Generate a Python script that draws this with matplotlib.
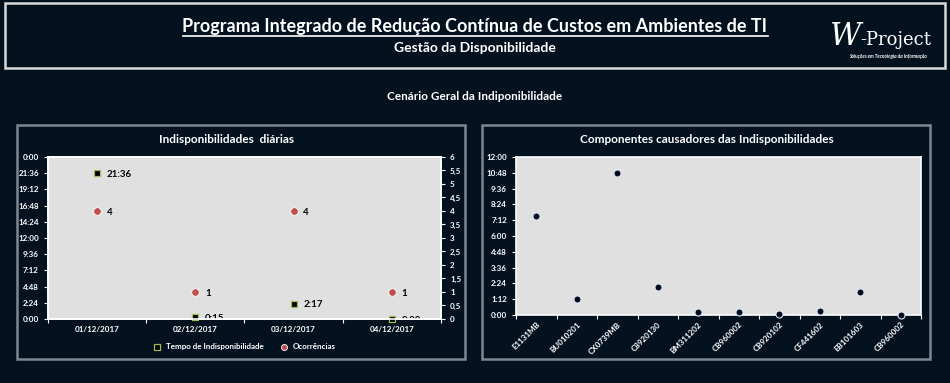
import matplotlib
matplotlib.use("Agg")
import matplotlib.pyplot as plt
from matplotlib.patches import Rectangle
from matplotlib.lines import Line2D
from matplotlib.ticker import FuncFormatter, MultipleLocator

dias = ["01/12/2017", "02/12/2017", "03/12/2017", "04/12/2017"]
tempo_horas = [21.6, 0.25, 2.2833, 0.0]          # 21:36, 0:15, 2:17, 0:00
tempo_rotulos = ["21:36", "0:15", "2:17", "0:00"]
ocorrencias = [4, 1, 4, 1]

componentes = ["E1131MB", "BU010201", "CX0739MB", "C8920130", "BM311202",
               "CB960002", "CB920102", "CF441602", "EB101603", "CB960002"]
comp_horas = [7.52, 1.24, 10.76, 2.15, 0.25, 0.2, 0.08, 0.3, 1.75, 0.0]

FUNDO = "#04111f"
AREA = "#e0e0e0"
plt.rcParams["font.family"] = ["Lato", "DejaVu Sans"]


def fmt_hora(v, pos=None):
    total = int(round(v * 60))
    h = (total // 60) % 24
    m = total % 60
    return f"{h}:{m:02d}"


fig = plt.figure(figsize=(9.5, 3.83), dpi=100, facecolor=FUNDO)

# cabeçalho
fig.patches.append(Rectangle((0.0053, 0.8225), 0.9895, 0.1697, transform=fig.transFigure,
                             fill=False, edgecolor="#d8d8d8", linewidth=1.8))
titulo = fig.text(0.5, 0.931, "Programa Integrado de Redução Contínua de Custos em Ambientes de TI",
                  color="white", fontsize=13, fontweight="bold", ha="center", va="center")
fig.text(0.5, 0.874, "Gestão da Disponibilidade", color="white", fontsize=10,
         fontweight="bold", ha="center", va="center")

# logo
fig.text(0.874, 0.905, "W", color="white", fontsize=22, family="DejaVu Serif",
         style="italic", ha="left", va="center")
fig.text(0.906, 0.896, "-Project", color="white", fontsize=13, family="DejaVu Serif",
         ha="left", va="center")
fig.text(0.935, 0.852, "Soluções em Tecnologia da Informação", color="white", fontsize=3.4,
         style="italic", fontweight="bold", ha="center", va="center")

fig.text(0.5, 0.747, "Cenário Geral da Indiponibilidade", color="white", fontsize=8.5,
         fontweight="bold", ha="center", va="center")

# molduras dos painéis
for x0 in (0.0179, 0.5074):
    fig.patches.append(Rectangle((x0, 0.0627), 0.4716, 0.611, transform=fig.transFigure,
                                 fill=False, edgecolor="#7f8790", linewidth=1.8))

fig.text(0.239, 0.637, "Indisponibilidades  diárias", color="white", fontsize=8.5,
         fontweight="bold", ha="center", va="center")
fig.text(0.744, 0.637, "Componentes causadores das Indisponibilidades", color="white",
         fontsize=8.5, fontweight="bold", ha="center", va="center")


def estilo(ax):
    ax.set_facecolor(AREA)
    for s in ax.spines.values():
        s.set_color("white")
        s.set_linewidth(1.2)
    ax.tick_params(which="both", colors="white", labelcolor="white", labelsize=5.8,
                   width=0.8)
    ax.tick_params(which="major", length=3)
    for lab in (ax.get_yticklabels() + ax.get_xticklabels()
                + ax.get_xticklabels(minor=True)):
        lab.set_fontweight("bold")


# --- gráfico esquerdo ---
ax1 = fig.add_axes([0.0505, 0.1671, 0.4137, 0.423])
ax2 = ax1.twinx()
xs = list(range(len(dias)))
ax1.set_xlim(-0.5, len(dias) - 0.5)
ax1.set_ylim(0, 24)
ax1.yaxis.set_major_locator(MultipleLocator(2.4))
ax1.yaxis.set_major_formatter(FuncFormatter(fmt_hora))
ax1.set_xticks([i - 0.5 for i in range(len(dias) + 1)])
ax1.set_xticklabels([])
ax1.set_xticks(xs, minor=True)
ax1.set_xticklabels(dias, minor=True)
ax1.tick_params(axis="x", which="minor", length=0, pad=5)
ax2.set_ylim(0, 6)
ax2.yaxis.set_major_locator(MultipleLocator(0.5))
ax2.yaxis.set_major_formatter(FuncFormatter(lambda v, p: f"{v:g}".replace(".", ",")))

ax1.scatter(xs, tempo_horas, marker="s", s=22, color="black", edgecolor="#9bbb59",
            linewidth=0.9, zorder=3, clip_on=False, label="Tempo de Indisponibilidade")
ax2.scatter(xs, ocorrencias, marker="o", s=30, color="#c0504d", edgecolor="white",
            linewidth=0.6, zorder=3, label="Ocorrências")
for x, y, t in zip(xs, tempo_horas, tempo_rotulos):
    ax1.annotate(t, (x, y), xytext=(7, -1), textcoords="offset points", ha="left",
                 va="center", fontsize=7, fontweight="bold", color="black",
                 annotation_clip=False, clip_on=True)
for x, y in zip(xs, ocorrencias):
    ax2.annotate(str(y), (x, y), xytext=(7, -1), textcoords="offset points", ha="left",
                 va="center", fontsize=7, fontweight="bold", color="black")
estilo(ax1)
estilo(ax2)
ax2.set_zorder(ax1.get_zorder() + 1)
ax2.patch.set_visible(False)

h1, l1 = ax1.get_legend_handles_labels()
h2, l2 = ax2.get_legend_handles_labels()
leg = fig.legend(h1 + h2, l1 + l2, loc="center", bbox_to_anchor=(0.255, 0.094), ncol=2,
                 frameon=False, fontsize=5.8, handletextpad=0.1, columnspacing=1.5,
                 markerscale=0.8)
for t in leg.get_texts():
    t.set_color("white")
    t.set_fontweight("bold")

# --- gráfico direito ---
ax3 = fig.add_axes([0.5432, 0.1775, 0.4263, 0.4125])
xc = list(range(len(componentes)))
ax3.set_xlim(-0.5, len(componentes) - 0.5)
ax3.set_ylim(0, 12)
ax3.yaxis.set_major_locator(MultipleLocator(1.2))
ax3.yaxis.set_major_formatter(FuncFormatter(fmt_hora))
ax3.set_xticks([i - 0.5 for i in range(len(componentes) + 1)])
ax3.set_xticklabels([])
ax3.set_xticks(xc, minor=True)
ax3.set_xticklabels(componentes, minor=True, rotation=45, ha="right", rotation_mode="anchor")
ax3.scatter(xc, comp_horas, marker="o", s=26, color="#020b1c", edgecolor="#dce6f2",
            linewidth=0.8, zorder=3, clip_on=False)
estilo(ax3)
ax3.tick_params(axis="x", which="minor", length=0, pad=4)

# sublinhado do título
fig.canvas.draw()
bb = titulo.get_window_extent().transformed(fig.transFigure.inverted())
fig.lines.append(Line2D([bb.x0, bb.x1], [bb.y0 - 0.004, bb.y0 - 0.004], transform=fig.transFigure,
                        color="white", linewidth=1.2))

fig.savefig("out.png", dpi=100, facecolor=FUNDO)
